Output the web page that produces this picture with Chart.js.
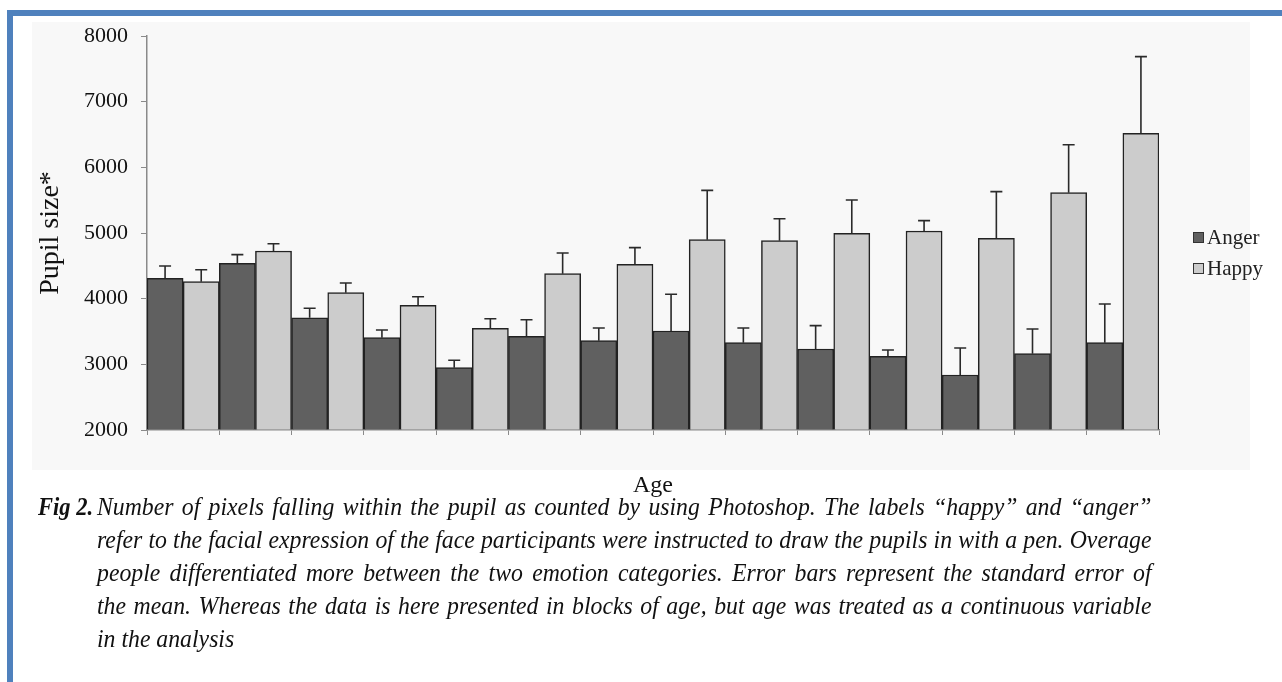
<!DOCTYPE html>
<html>
<head>
<meta charset="utf-8">
<script src="https://cdn.jsdelivr.net/npm/chart.js@4.4.1/dist/chart.umd.min.js"></script>
<style>
  html, body { margin: 0; padding: 0; background: #fff; }
  body { width: 1282px; height: 682px; position: relative; overflow: hidden; font-family: "Liberation Serif", "Times New Roman", serif; }
  #frame { position: absolute; left: 7px; top: 10px; width: 1400px; height: 800px; border: 6px solid #4f81bd; box-sizing: border-box; }
  #bg { position: absolute; left: 32px; top: 22px; width: 1218px; height: 448px; background: #f8f8f8; }
  #wrap { position: absolute; left: 0; top: 0; width: 1282px; height: 510px; }
  .legend { position: absolute; left: 1193px; font-size: 21px; color: #222; line-height: 24px; }
  .legend span.box { display: inline-block; width: 9px; height: 9px; border: 1px solid #333; margin-right: 3px; vertical-align: 1px; }
  #caption { position: absolute; left: 38px; top: 490px; width: 1114px; font-size: 25px; line-height: 33px; color: #111; }
  #caption .fig { position: absolute; left: 0; top: 0; font-weight: bold; font-style: italic; transform: scaleX(0.9); transform-origin: 0 0; }
  #caption .txt { position: absolute; left: 59px; top: 0; width: 1055px; font-style: italic; }
  #caption .ln { width: 1110px; transform: scaleX(0.95); transform-origin: 0 0; text-align: justify; text-align-last: justify; white-space: nowrap; }
  #caption .ln.last { text-align-last: left; }
</style>
</head>
<body>
<div id="frame"></div>
<div id="bg"></div>
<div id="wrap"><canvas id="c" width="1282" height="510"></canvas></div>
<div class="legend" style="top:225px"><span class="box" style="background:#606060"></span>Anger</div>
<div class="legend" style="top:256px"><span class="box" style="background:#cccccc"></span>Happy</div>
<div id="caption">
  <div class="fig">Fig 2.</div>
  <div class="txt">
    <div class="ln">Number of pixels falling within the pupil as counted by using Photoshop. The labels “happy” and “anger”</div>
    <div class="ln">refer to the facial expression of the face participants were instructed to draw the pupils in with a pen. Overage</div>
    <div class="ln">people differentiated more between the two emotion categories. Error bars represent the standard error of</div>
    <div class="ln">the mean. Whereas the data is here presented in blocks of age, but age was treated as a continuous variable</div>
    <div class="ln last">in the analysis</div>
  </div>
</div>
<script>
const ageBlocks = ["", "", "", "", "", "", "", "", "", "", "", "", "", ""];
const angerMeans = [4310, 4539, 3710, 3406, 2949, 3427, 3360, 3508, 3330, 3234, 3122, 2838, 3162, 3330];
const angerSE = [188, 131, 143, 117, 113, 253, 193, 559, 223, 355, 96, 411, 376, 589];
const happyMeans = [4259, 4726, 4091, 3899, 3549, 4381, 4524, 4899, 4883, 4996, 5031, 4920, 5614, 6519];
const happySE = [182, 111, 148, 131, 146, 315, 253, 750, 335, 507, 157, 710, 731, 1167];
const yTicks = [2000, 3000, 4000, 5000, 6000, 7000, 8000];

const AXIS = "#8a8a8a";
const SERIF = "'Liberation Serif', 'Times New Roman', serif";

// upper error bars with a small cap
const errorBars = {
  id: "errorBars",
  afterDatasetsDraw(chart) {
    const { ctx } = chart;
    const y = chart.scales.y;
    ctx.save();
    ctx.strokeStyle = "#2a2a2a";
    ctx.lineWidth = 1.6;
    chart.data.datasets.forEach((ds, i) => {
      chart.getDatasetMeta(i).data.forEach((bar, j) => {
        const top = y.getPixelForValue(ds.data[j] + ds.se[j]);
        ctx.beginPath();
        ctx.moveTo(bar.x, bar.y);
        ctx.lineTo(bar.x, top);
        ctx.moveTo(bar.x - 6, top);
        ctx.lineTo(bar.x + 6, top);
        ctx.stroke();
      });
    });
    ctx.restore();
  },
};

new Chart(document.getElementById("c"), {
  type: "bar",
  data: {
    labels: ageBlocks,
    datasets: [
      { label: "Anger", data: angerMeans, se: angerSE, backgroundColor: "#606060", borderColor: "#222", borderWidth: 1.5, categoryPercentage: 1, barPercentage: 1, base: 2000 },
      { label: "Happy", data: happyMeans, se: happySE, backgroundColor: "#cccccc", borderColor: "#222", borderWidth: 1.5, categoryPercentage: 1, barPercentage: 1, base: 2000 },
    ],
  },
  plugins: [errorBars],
  options: {
    responsive: false,
    animation: false,
    layout: { padding: { left: 0, right: 123, top: 36, bottom: 0 } },
    plugins: { legend: { display: false }, tooltip: { enabled: false } },
    scales: {
      x: {
        grid: { display: true, offset: true, drawOnChartArea: false, drawTicks: true, tickLength: 5, color: AXIS },
        border: { display: true, color: AXIS, width: 1.5 },
        ticks: { display: false },
        title: { display: true, text: "Age", color: "#111", font: { family: SERIF, size: 24 }, padding: { top: 0, bottom: 10 } },
        afterFit: (s) => { s.height = 80; },
      },
      y: {
        min: 2000,
        max: 8000,
        afterBuildTicks: (s) => { s.ticks = yTicks.map((v) => ({ value: v })); },
        grid: { display: true, drawOnChartArea: false, drawTicks: true, tickLength: 6, color: AXIS },
        border: { display: true, color: AXIS, width: 1.5 },
        ticks: { color: "#111", padding: 13, font: { family: SERIF, size: 22 }, callback: (v) => String(v) },
        title: { display: true, text: "Pupil size*", color: "#111", font: { family: SERIF, size: 28 }, padding: { top: 34, bottom: 0 } },
        afterFit: (s) => { s.width = 147; },
      },
    },
  },
});
</script>
</body>
</html>
